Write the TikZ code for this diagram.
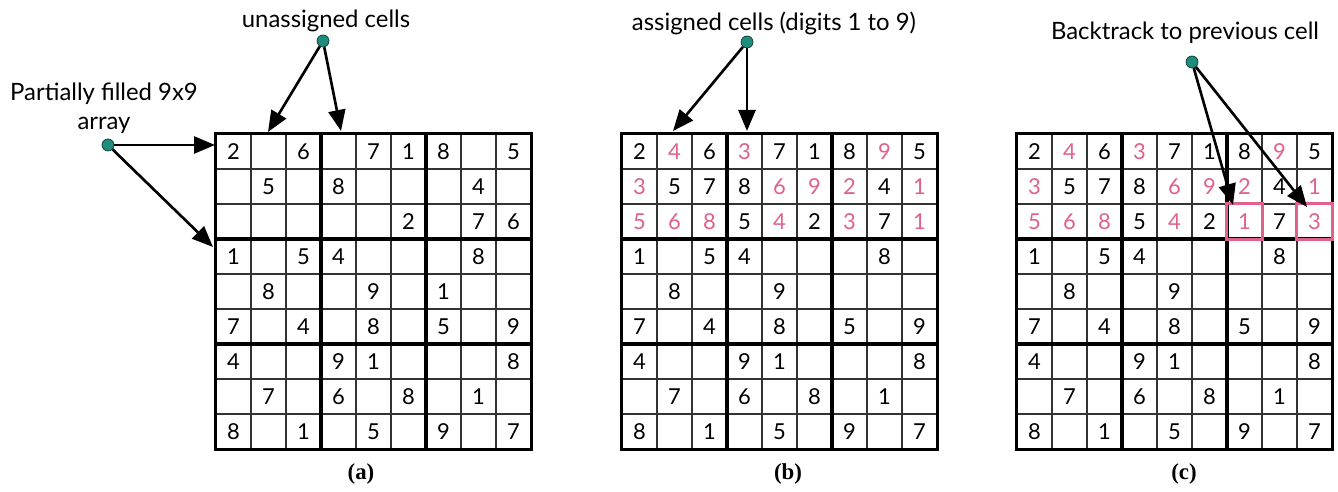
\documentclass[tikz,border=0pt]{standalone}
\usepackage{fontspec}
\setmainfont{Lato}
\newfontfamily\capfont{Liberation Serif}
\usetikzlibrary{arrows.meta}
\usetikzlibrary{positioning}

\definecolor{pinkdigit}{HTML}{E0608E}
\definecolor{dotteal}{HTML}{1F8C7D}

\begin{document}
\begin{tikzpicture}[x=0.02cm, y=-0.02cm,
cell/.style={draw=black!80, line width=0.9pt, minimum size=0.7cm, inner sep=0pt},
block/.style={line width=1.9pt},
given/.style={inner sep=0pt, font=\fontsize{12.5}{14}\selectfont},
filled/.style={given, text=pinkdigit},
pinkbox/.style={draw=pinkdigit, line width=1.6pt},
dot/.style={circle, draw=black!60!dotteal, fill=dotteal, inner sep=0pt, minimum size=0.24cm},
note/.style={font=\fontsize{13.6}{16.5}\selectfont, align=center, inner sep=0pt},
pointer/.style={line width=1.5pt, -{Triangle[length=0.42cm, width=0.34cm]}},
caption/.style={font=\capfont\bfseries\fontsize{13}{15}\selectfont, inner sep=0pt}]
\useasboundingbox (0,0) rectangle (1338,492);

% three 9x9 grids
\foreach \g/\gx in {a/216, b/622, c/1017}{
\foreach \r in {1,...,9}{
\foreach \c in {1,...,9}{
\node[cell] (\g-\c-\r) at (\gx+35*\c-17.5, 116.5+35*\r){};}}
\foreach \bc/\ec in {1/3, 4/6, 7/9}{
\foreach \br/\er in {1/3, 4/6, 7/9}{
\draw[block] (\g-\bc-\br.north west) rectangle (\g-\ec-\er.south east);}}
}

% digits shared by all three grids
\foreach \g in {a, b, c}{
\foreach \c/\r/\d in {1/1/2, 3/1/6, 5/1/7, 6/1/1, 7/1/8, 9/1/5,
 2/2/5, 4/2/8, 8/2/4, 6/3/2, 8/3/7,
 1/4/1, 3/4/5, 4/4/4, 8/4/8, 2/5/8, 5/5/9,
 1/6/7, 3/6/4, 5/6/8, 7/6/5, 9/6/9,
 1/7/4, 4/7/9, 5/7/1, 9/7/8,
 2/8/7, 4/8/6, 6/8/8, 8/8/1,
 1/9/8, 3/9/1, 5/9/5, 7/9/9, 9/9/7}{
\node[given] (\g\c\r) at (\g-\c-\r) {\d};}}
\foreach \c/\r/\d in {9/3/6, 7/5/1}{
\node[given] (a\c\r) at (a-\c-\r) {\d};}
\foreach \g in {b, c}{
\foreach \c/\r/\d in {3/2/7, 4/3/5}{
\node[given] (\g\c\r) at (\g-\c-\r) {\d};}
\foreach \c/\r/\d in {2/1/4, 4/1/3, 8/1/9, 1/2/3, 5/2/6, 6/2/9, 7/2/2, 9/2/1,
 1/3/5, 2/3/6, 3/3/8, 5/3/4}{
\node[filled] (\g\c\r) at (\g-\c-\r) {\d};}}
\foreach \c/\r/\d in {7/3/3, 9/3/1}{
\node[filled] (b\c\r) at (b-\c-\r) {\d};}
\foreach \c/\r/\d in {7/3/1, 9/3/3}{
\node[filled] (c\c\r) at (c-\c-\r) {\d};
\draw[pinkbox] (c-\c-\r.north west) rectangle (c-\c-\r.south east);}

% notes
\node[note] (partialtxt) at (104,108) {Partially filled 9x9\\array};
\node[dot] (partial) at (108,145){};
\coordinate (partialtip1) at (215,145);
\coordinate (partialtip2) at (213,247);
\draw[pointer] (partial) -- (partialtip1);
\draw[pointer] (partial) -- (partialtip2);

\node[note] (unassignedtxt) at (326,21) {unassigned cells};
\node[dot] (unassigned) at (323,41){};
\coordinate (unassignedtip1) at (268,132);
\coordinate (unassignedtip2) at (341,131);
\draw[pointer] (unassigned) -- (unassignedtip1);
\draw[pointer] (unassigned) -- (unassignedtip2);

\node[note] (assignedtxt) at (774,23) {assigned cells (digits 1 to 9)};
\node[dot] (assigned) at (747,42){};
\coordinate (assignedtip1) at (673,131);
\coordinate (assignedtip2) at (747,131);
\draw[pointer] (assigned) -- (assignedtip1);
\draw[pointer] (assigned) -- (assignedtip2);

\node[note] (backtracktxt) at (1185,33) {Backtrack to previous cell};
\node[dot] (backtrack) at (1192,62){};
\coordinate (backtracktip1) at (1233,205);
\coordinate (backtracktip2) at (1307,207);
\draw[pointer] (backtrack) -- (backtracktip1);
\draw[pointer] (backtrack) -- (backtracktip2);

% captions
\node[caption] (capa) at (361,474) {(a)};
\node[caption] (capb) at (788,474) {(b)};
\node[caption] (capc) at (1184,474) {(c)};
\end{tikzpicture}
\end{document}
